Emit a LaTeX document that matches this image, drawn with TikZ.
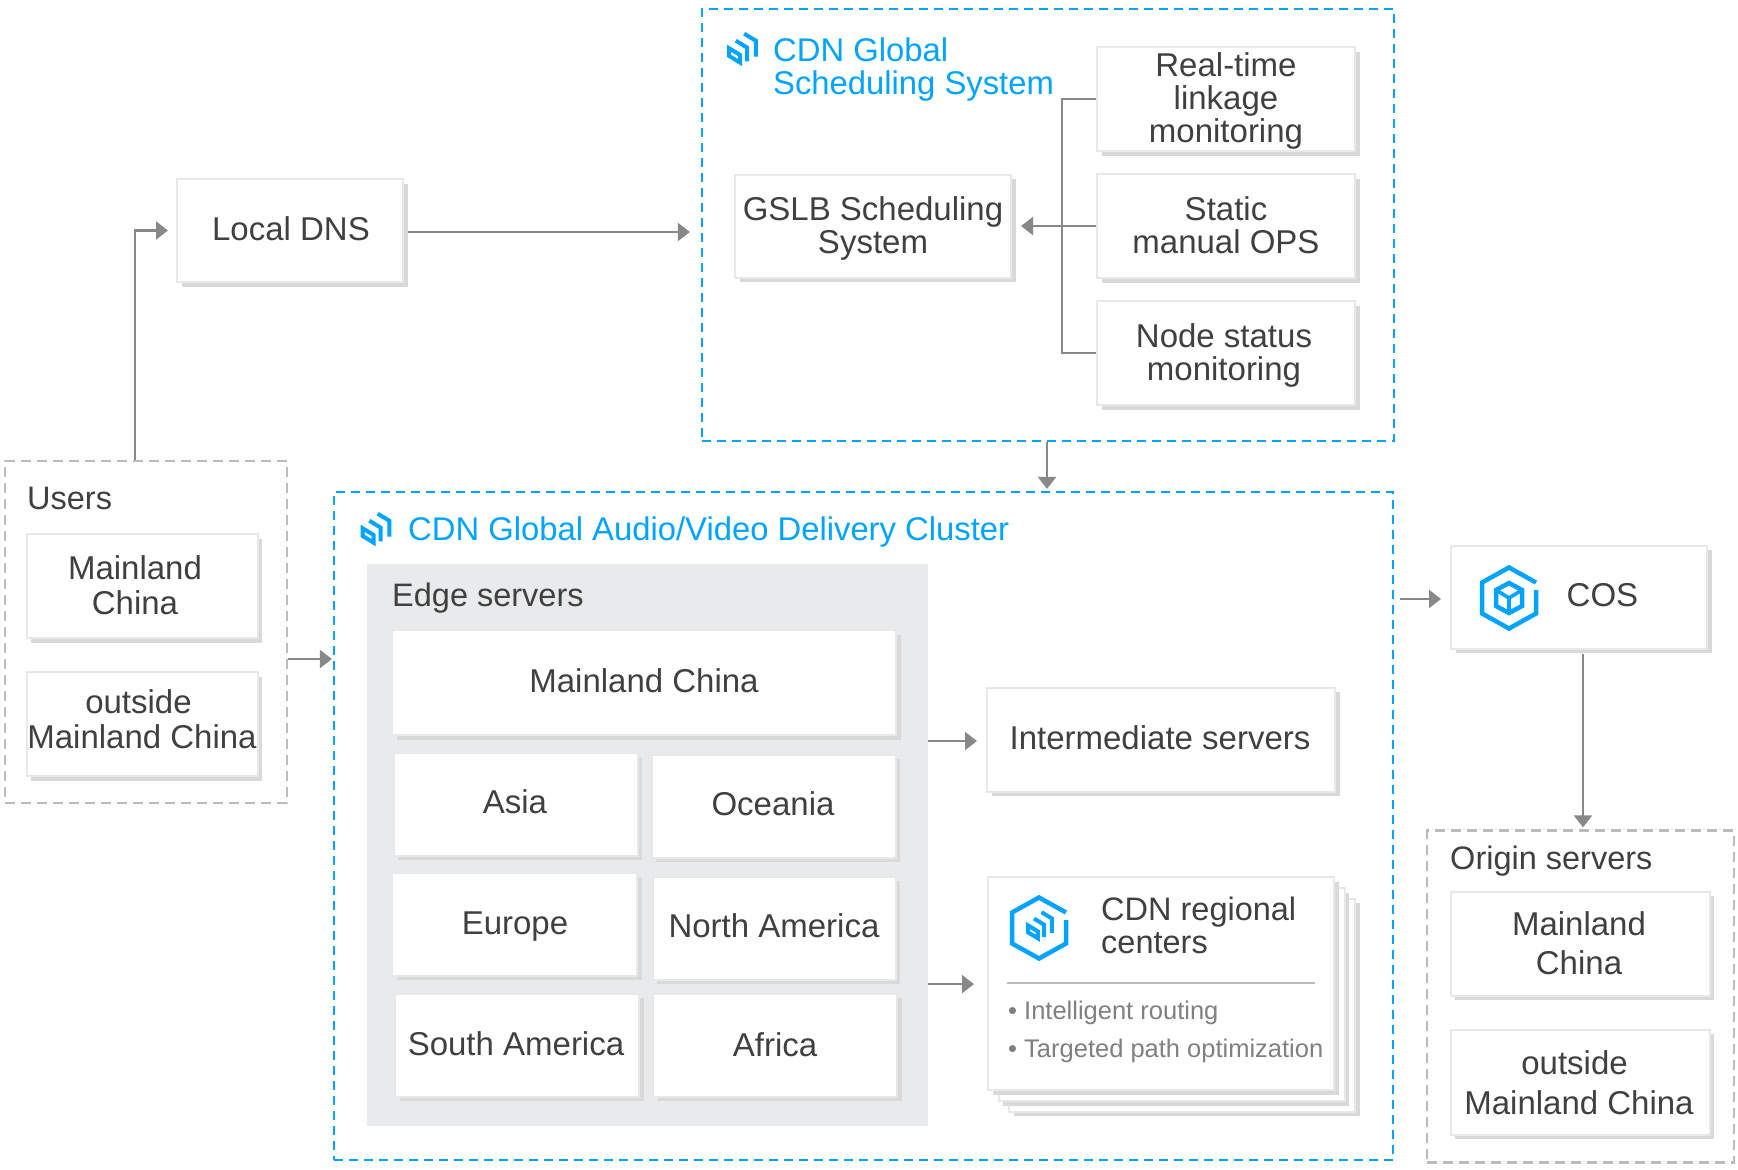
\documentclass[tikz,border=0pt]{standalone}
\usepackage{fontspec}
\setmainfont{Liberation Sans}
\usetikzlibrary{arrows.meta,shadows}
\definecolor{cdnblue}{HTML}{00A4FF}
\definecolor{inktext}{HTML}{404040}
\definecolor{softtext}{HTML}{808080}
\definecolor{wirecolor}{HTML}{888888}
\definecolor{cardline}{HTML}{E8E8E8}
\definecolor{cardshadow}{HTML}{D9D9D9}
\definecolor{panelgrey}{HTML}{E9EAEC}
\definecolor{dashgrey}{HTML}{BBBBBB}
\tikzset{
 card/.style={draw=cardline,line width=2pt,fill=white,inner sep=0pt,
  drop shadow={shadow xshift=4.5pt,shadow yshift=-4.5pt,fill=cardshadow,opacity=1}},
 cardtext/.style={text=inktext,font=\fontsize{33}{33}\selectfont,align=center,inner sep=0pt},
 headtext/.style={cardtext,font=\fontsize{32.5}{33}\selectfont,anchor=west,align=left},
 bluehead/.style={headtext,font=\fontsize{32.8}{33}\selectfont,text=cdnblue},
 softhead/.style={text=softtext,font=\fontsize{25.5}{26}\selectfont,anchor=west,inner sep=0pt},
 cdnframe/.style={draw=cdnblue,line width=2.2pt,dash pattern=on 9pt off 6pt,inner sep=0pt},
 greyframe/.style={draw=dashgrey,line width=2.2pt,dash pattern=on 10pt off 6pt,inner sep=0pt},
 wire/.style={draw=wirecolor,line width=2.2pt},
 flow/.style={wire,-{Triangle[length=12pt,width=18pt]}},
 markline/.style={draw=cdnblue,line width=4pt,miter limit=8},
 cdnmark/.pic={
  \draw[markline] (-13.3,-0.7) -- (-2.3,6) -- (-2.3,13.7) -- (-13.3,7) -- cycle;
  \draw[markline] (-6.7,-8.3) -- (4.7,-1.3) -- (4.7,12.3);
  \draw[markline] (1.7,-15.3) -- (13.3,-8.3) -- (13.3,7.7);
 },
 openhex/.pic={
  \draw[draw=cdnblue,line width=4.5pt]
   (27,-8) -- (27,15.5) -- (0,30.5) -- (-27,15.5) -- (-27,-15.5) -- (0,-30.5) -- (27,-15.5);
 },
 cubemark/.pic={
  \draw[draw=cdnblue,line width=4.5pt] (0,-15) -- (13,-8) -- (13,8) -- (0,15) -- (-13,8) -- (-13,-8) -- cycle;
  \draw[draw=cdnblue,line width=3.6pt] (-13,-8) -- (0,0) -- (13,-8) (0,0) -- (0,15);
 }
}
\begin{document}
\begin{tikzpicture}[x=1pt,y=-1pt]
\useasboundingbox (0,0) rectangle (1738,1170);

%frames
\node[cdnframe,minimum width=692,minimum height=432] (globalframe) at (1048,225) {};
\node[cdnframe,minimum width=1059,minimum height=668] (deliveryframe) at (863.5,826) {};
\node[greyframe,minimum width=282,minimum height=342] (usersframe) at (146,632) {};
\node[greyframe,minimum width=307,minimum height=332] (originframe) at (1580.5,996.5) {};
\node[fill=panelgrey,inner sep=0pt,minimum width=561,minimum height=562] (edgepanel) at (647.5,845) {};

%stacked regional cards
\node[card,minimum width=346,minimum height=213] (regionalback) at (1182,1005) {};
\node[card,minimum width=346,minimum height=213] (regionalmid) at (1171.5,994.5) {};
\node[card,minimum width=346,minimum height=213] (regional) at (1161,983.5) {};

%cards with their text
\foreach \id/\cx/\cy/\w/\h/\tx/\ty/\lbl in {
 localdns/290/230.5/226/103/291/229/{Local DNS},
 gslb/873/226/276/103/873/228/{GSLB Scheduling\\System},
 realtime/1226/99/258/104/1226/101/{Real-time\\linkage\\monitoring},
 staticops/1226/226/258/104/1226/225/{Static\\manual OPS},
 nodestatus/1226/353/258/104/1224/355/{Node status\\monitoring},
 usermain/142/586/231/104/135/585/{Mainland\\[2pt]China},
 userout/142/724/231/104/142/719/{outside\hspace*{7pt}\\[2pt]Mainland China},
 edgemain/644/682.5/504/105/644/681/{Mainland China},
 asia/515.5/804/244/103/515/802/{Asia},
 oceania/773.5/806/244/103/773/804/{Oceania},
 europe/514.5/924/245/103/515/927/{Europe},
 namerica/774/928/243/103/774/926/{North America},
 samerica/517/1045/244/103/516/1044/{South America},
 africa/775/1045/244/103/775/1045/{Africa},
 intermediate/1161/739.5/348/104/1160/738/{Intermediate servers},
 originmain/1580/943.5/259/104/1579/943/{Mainland\\[6pt]China},
 originout/1580/1082/259/105/1579/1083/{outside\hspace*{9pt}\\[7pt]Mainland China},
 cos/1579/597/256/103/1607/595/{COS}
} {
 \node[card,minimum width=\w,minimum height=\h] (\id) at (\cx,\cy) {};
 \node[cardtext] (\id txt) at (\tx,\ty) {\lbl};
}

%headings
\node[bluehead] (globalhead) at (773,70) {CDN Global\\Scheduling System};
\node[bluehead] (deliveryhead) at (408,532) {CDN Global Audio/Video Delivery Cluster};
\node[headtext] (usershead) at (27,498) {Users};
\node[headtext] (edgehead) at (392,598) {Edge servers};
\node[headtext] (originhead) at (1450,861) {Origin servers};
\node[headtext] (regionalhead) at (1101,925) {CDN regional\\centers};
\node[softhead] (routing) at (1008,1013) {• Intelligent routing};
\node[softhead] (pathopt) at (1008,1051) {• Targeted path optimization};
\draw[draw=dashgrey,line width=2pt] (1007,983) -- (1315,983);

%icons
\pic at (742.5,49) {cdnmark};
\pic at (376,529) {cdnmark};
\pic[scale=.9] at (1040,926) {cdnmark};
\pic at (1039,928) {openhex};
\pic at (1509,598) {openhex};
\pic at (1509,598) {cubemark};

%connectors
\coordinate (bus) at (1062,226);
\draw[wire] (realtime.west) -| (bus) |- (nodestatus.west);
\draw[flow,shorten >=9pt] (staticops.west) -- (gslb.east);
\draw[flow,shorten >=8pt] ([xshift=-11pt]usersframe.north) |- (localdns.west);
\draw[flow,shorten <=4pt,shorten >=11pt] ([yshift=-1.5pt]localdns.east) -- ([yshift=-1.5pt]localdns.east -| globalframe.west);
\draw[flow,shorten >=2pt] ([xshift=-1pt]globalframe.south) -- ([xshift=-1pt]globalframe.south |- deliveryframe.north);
\draw[flow,shorten >=1pt] ([yshift=-27pt]usersframe.east) -- ([yshift=-27pt]usersframe.east -| deliveryframe.west);
\draw[flow,shorten >=9pt] ([yshift=-1.5pt]intermediate.west -| edgepanel.east) -- ([yshift=-1.5pt]intermediate.west);
\draw[flow,shorten >=13pt] ([yshift=-.6pt]regional.west -| edgepanel.east) -- ([yshift=-.6pt]regional.west);
\draw[flow,shorten <=6pt,shorten >=9pt] ([yshift=-2pt]cos.west -| deliveryframe.east) -- ([yshift=-2pt]cos.west);
\draw[flow,shorten <=4pt,shorten >=2pt] ([xshift=4pt]cos.south) -- ([xshift=4pt]cos.south |- originframe.north);
\end{tikzpicture}
\end{document}
